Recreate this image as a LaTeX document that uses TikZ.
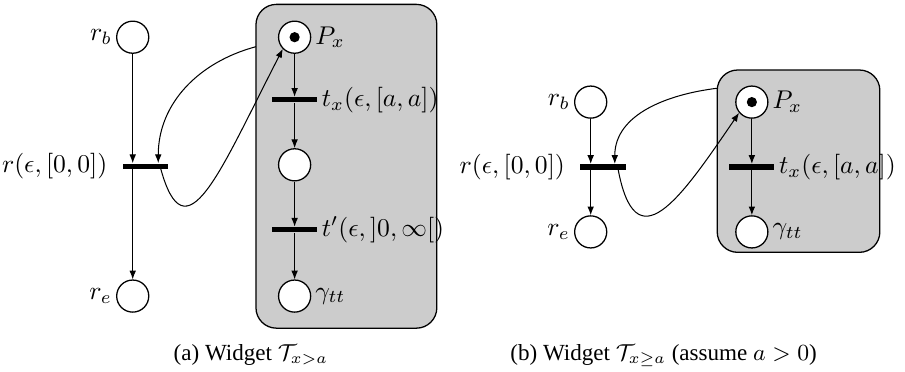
\documentclass[tikz,border=0pt]{standalone}
\usepackage{amsmath,amssymb}
\usepackage{fontspec}
\setmainfont{Liberation Serif}
\usetikzlibrary{arrows.meta,positioning,calc}

\begin{document}
\begin{tikzpicture}[
    % --- Styles ---
    place/.style={draw, circle, minimum size=4.4mm, inner sep=0pt, line width=0.5pt, fill=white},
    trans/.style={fill=black, minimum width=6.2mm, minimum height=2pt, inner sep=0pt},
    widget/.style={draw, rounded corners=2.8mm, fill=black!20, line width=0.5pt},
    token/.style={fill=black, circle, inner sep=0pt, minimum size=1.4mm},
    lbl/.style={inner sep=0.5mm},
    arc/.style={-{Latex[length=3.4pt,width=2.6pt]}, line width=0.4pt},
    caption/.style={font=\fontsize{9}{11}\selectfont},
]
\useasboundingbox (0,0) rectangle (12.41,5.10);

% === Widget boxes (background) ===
\node[widget, minimum width=2.48cm, minimum height=4.44cm] (boxa) at (4.75,2.82) {};
\node[widget, minimum width=2.23cm, minimum height=2.50cm] (boxb) at (10.95,2.89) {};

% === (a) places and transitions ===
\node[place, label={[lbl]left:$r_b$}] (rb) at (1.82,4.59) {};
\node[trans] (r)  at (1.995,2.82) {};
\node[place, label={[lbl]left:$r_e$}] (re) at (1.82,1.04) {};
\node[lbl, left=1.5mm of r] (rlbl) {$r(\epsilon,[0,0])$};

\node[place, label={[lbl]right:$P_x$}] (px) at (4.04,4.59) {};
\node[token] (tok) at (px) {};
\node[trans] (tx) at (4.04,3.73) {};
\node[lbl, right=0pt of tx] (txlbl) {$t_x(\epsilon,[a,a])$};
\node[place] (pm) at (4.04,2.84) {};
\node[trans] (tp) at (4.04,1.95) {};
\node[lbl, right=0pt of tp] (tplbl) {$t'(\epsilon,]0,\infty[)$};
\node[place, label={[lbl]right:$\gamma_{tt}$}] (gt) at (4.04,1.04) {};

\draw[arc] (rb) -- (rb |- r.north);
\draw[arc] (rb |- r.south) -- (re);
\draw[arc] (px) -- (tx);
\draw[arc] (tx) -- (pm);
\draw[arc] (pm) -- (tp);
\draw[arc] (tp) -- (gt);

% reset arc and return arc
\coordinate (ina) at (3.51,4.46);
\draw[arc] (ina) to[out=195,in=90] ([xshift=1.75mm]r.north);
\draw[arc] ([xshift=2mm]r.center) .. controls (2.54,1.51) and (3.02,2.77) .. (px.225);

% === (b) places and transitions ===
\node[place, label={[lbl]left:$r_b$}] (rb2) at (8.10,3.70) {};
\node[trans] (r2) at (8.27,2.81) {};
\node[place, label={[lbl]left:$r_e$}] (re2) at (8.10,1.92) {};
\node[lbl, left=1.5mm of r2] (r2lbl) {$r(\epsilon,[0,0])$};

\node[place, label={[lbl]right:$P_x$}] (px2) at (10.31,3.70) {};
\node[token] (tok2) at (px2) {};
\node[trans] (tx2) at (10.31,2.81) {};
\node[lbl, right=0pt of tx2] (tx2lbl) {$t_x(\epsilon,[a,a])$};
\node[place, label={[lbl]right:$\gamma_{tt}$}] (gt2) at (10.31,1.92) {};

\draw[arc] (rb2) -- (rb2 |- r2.north);
\draw[arc] (rb2 |- r2.south) -- (re2);
\draw[arc] (px2) -- (tx2);
\draw[arc] (tx2) -- (gt2);

\coordinate (inb) at (9.835,3.89);
\draw[arc] (inb) to[out=187,in=90] ([xshift=1.6mm]r2.north);
\draw[arc] ([xshift=2mm]r2.center) .. controls (8.71,1.47) and (9.32,2.36) .. (px2.220);

% === Captions ===
\node[caption] (capa) at (3.44,0.23) {(a) Widget $\mathcal{T}_{x>a}$};
\node[caption] (capb) at (9.10,0.23) {(b) Widget $\mathcal{T}_{x\geq a}$ (assume $a>0$)};

\end{tikzpicture}
\end{document}
